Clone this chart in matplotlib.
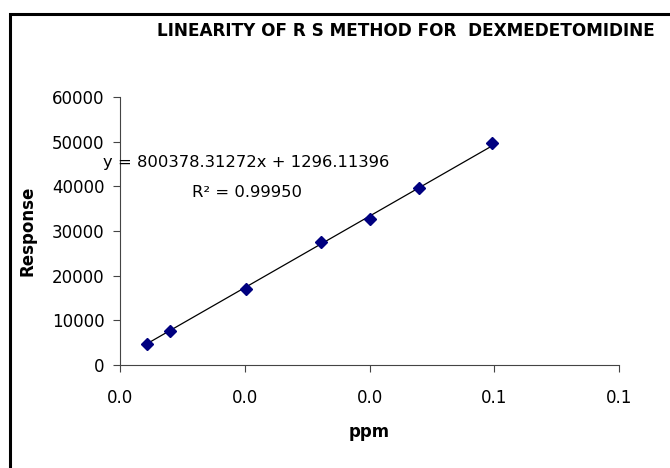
import matplotlib
matplotlib.use('Agg')
import matplotlib.pyplot as plt
from matplotlib.patches import Rectangle
from matplotlib.ticker import FormatStrFormatter
import numpy as np

# datos
ppm = [0.0043, 0.0081, 0.0202, 0.0322, 0.0400, 0.0480, 0.0596]
respuesta = [4710, 7620, 17040, 27580, 32740, 39690, 49780]
pendiente = 800378.31272
intercepto = 1296.11396
r2 = 0.99950

plt.rcParams['font.family'] = ['DejaVu Sans']

fig = plt.figure(figsize=(6.7, 4.68), dpi=100)
ax = fig.add_axes([0.179, 0.22, 0.745, 0.573])

# marco alrededor de la figura
fig.patches.append(Rectangle((10/670, -0.1), 1.2, 1 - 14/468 + 0.1, transform=fig.transFigure,
                             fill=False, edgecolor='black', linewidth=2.2))

xs = np.array([min(ppm), max(ppm)])
ax.plot(xs, pendiente*xs + intercepto, color='black', linewidth=0.9, zorder=2)
ax.plot(ppm, respuesta, linestyle='none', marker='D', markersize=6,
        color='#000080', zorder=3)

ax.set_xlim(0, 0.08)
ax.set_ylim(0, 60000)
ax.set_xticks(np.arange(0, 0.081, 0.02))
ax.set_yticks(np.arange(0, 60001, 10000))
ax.xaxis.set_major_formatter(FormatStrFormatter('%.1f'))
ax.tick_params(labelsize=12, length=5, color='#444444', pad=6)
ax.tick_params(axis='x', pad=12.5)
for s in ['top', 'right']:
    ax.spines[s].set_visible(False)
for s in ['left', 'bottom']:
    ax.spines[s].set_color('#444444')

ax.set_xlabel('ppm', fontsize=12, fontweight='bold', labelpad=11)
ax.set_ylabel('Response', fontsize=12, fontweight='bold', labelpad=11)

fig.text(406/670, 1 - 31/468, 'LINEARITY OF R S METHOD FOR  DEXMEDETOMIDINE',
         ha='center', va='center', fontsize=12.2, fontweight='bold')

ax.text(0.0203, 45224, 'y = %.5fx + %.5f' % (pendiente, intercepto),
        ha='center', va='center', fontsize=11.8)
ax.text(0.0203, 38500, 'R² = %.5f' % r2, ha='center', va='center', fontsize=11.8)

fig.savefig('out.png', dpi=100)
